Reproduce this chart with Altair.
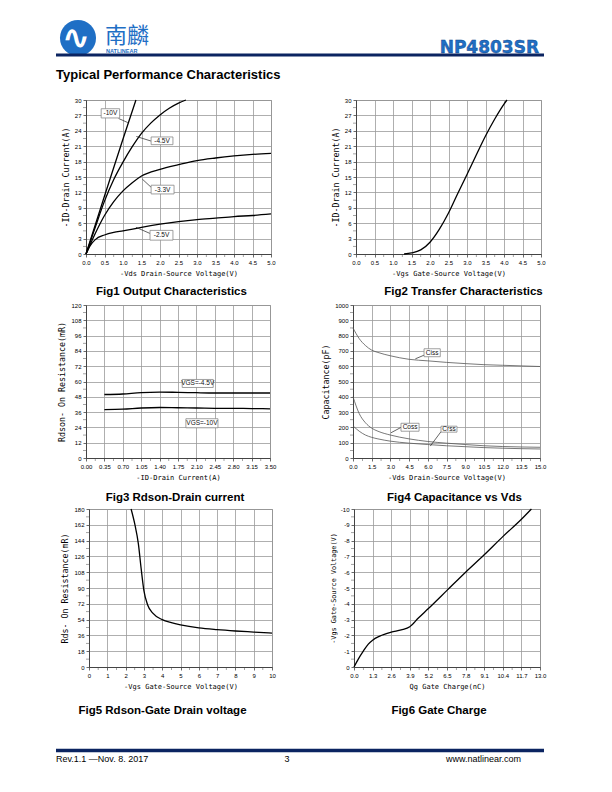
import altair as alt
import pandas as pd

# ---------------- tick values ----------------
f1_xticks = [0.0, 0.5, 1.0, 1.5, 2.0, 2.5, 3.0, 3.5, 4.0, 4.5, 5.0]
f1_yticks = [0, 3, 6, 9, 12, 15, 18, 21, 24, 27, 30]
f3_xticks = [0.0, 0.35, 0.70, 1.05, 1.40, 1.75, 2.10, 2.45, 2.80, 3.15, 3.50]
f3_yticks = [0, 12, 24, 36, 48, 60, 72, 84, 96, 108, 120]
f4_xticks = [0.0, 1.5, 3.0, 4.5, 6.0, 7.5, 9.0, 10.5, 12.0, 13.5, 15.0]
f4_yticks = [0, 100, 200, 300, 400, 500, 600, 700, 800, 900, 1000]
f5_xticks = [0, 1, 2, 3, 4, 5, 6, 7, 8, 9, 10]
f5_yticks = [0, 18, 36, 54, 72, 90, 108, 126, 144, 162, 180]
f6_xticks = [0.0, 1.3, 2.6, 3.9, 5.2, 6.5, 7.8, 9.1, 10.4, 11.7, 13.0]
f6_yticks = [0, -1, -2, -3, -4, -5, -6, -7, -8, -9, -10]

# ---------------- Fig1 Output Characteristics ----------------
f1_vds_10 = [0, 0.5, 1.0, 1.35]
f1_id_10 = [0, 11.3, 22.4, 30.0]
f1_vds_45 = [0, 0.25, 0.5, 0.75, 1.0, 1.25, 1.5, 1.75, 2.0, 2.25, 2.5, 2.7]
f1_id_45 = [0, 5.2, 10.3, 14.5, 17.9, 20.9, 23.5, 25.5, 27.1, 28.4, 29.4, 30.0]
f1_vds_33 = [0, 0.25, 0.5, 0.75, 1.0, 1.25, 1.5, 2.0, 2.5, 3.0, 3.5, 4.0, 4.5, 5.0]
f1_id_33 = [0, 4.0, 7.5, 10.2, 12.3, 13.9, 15.2, 16.5, 17.4, 18.2, 18.7, 19.1, 19.4, 19.6]
f1_vds_25 = [0, 0.1, 0.25, 0.5, 0.75, 1.0, 1.5, 2.0, 2.5, 3.0, 3.5, 4.0, 4.5, 5.0]
f1_id_25 = [0, 1.5, 2.8, 3.7, 4.2, 4.5, 5.2, 5.8, 6.3, 6.7, 7.0, 7.3, 7.5, 7.8]
f1_labels = ["-10V", "-4.5V", "-3.3V", "-2.5V"]
f1_box_x1 = [0.41, 1.76, 1.76, 1.73]
f1_box_x2 = [0.91, 2.35, 2.38, 2.35]
f1_box_y1 = [26.5, 21.3, 11.7, 2.7]
f1_box_y2 = [28.3, 22.8, 13.4, 4.6]
f1_lead_x1 = [0.88, 1.36, 1.52, 1.35]
f1_lead_y1 = [26.4, 22.9, 14.6, 5.2]
f1_lead_x2 = [1.13, 1.76, 1.76, 1.73]
f1_lead_y2 = [25.6, 22.0, 13.0, 4.0]

# ---------------- Fig2 Transfer Characteristics ----------------
f2_vgs = [1.3, 1.5, 1.75, 2.0, 2.25, 2.5, 2.75, 3.0, 3.25, 3.5, 3.75, 4.0, 4.08]
f2_id = [0.0, 0.2, 0.8, 2.3, 4.8, 8.0, 11.8, 15.5, 19.3, 23.0, 26.3, 29.2, 30.0]

# ---------------- Fig3 Rdson-Drain current ----------------
f3_id = [0.35, 0.70, 1.05, 1.40, 1.75, 2.10, 2.45, 2.80, 3.15, 3.50]
f3_r45 = [49.8, 50.2, 51.3, 51.6, 51.5, 51.2, 51.0, 51.0, 51.0, 51.0]
f3_r10 = [38.0, 38.3, 39.2, 39.6, 39.4, 39.2, 39.0, 38.9, 38.8, 38.6]
f3_labels = ["VGS=-4.5V", "VGS=-10V"]
f3_box_x1 = [1.83, 1.90]
f3_box_x2 = [2.42, 2.51]
f3_box_y1 = [55.3, 23.7]
f3_box_y2 = [61.6, 30.8]

# ---------------- Fig4 Capacitance vs Vds ----------------
f4_vds = [0, 0.5, 1.0, 1.5, 2.0, 3.0, 4.5, 6.0, 7.5, 9.0, 10.5, 12.0, 13.5, 15.0]
f4_ciss = [850, 780, 735, 705, 690, 668, 645, 635, 625, 617, 610, 606, 602, 598]
f4_coss = [400, 290, 230, 195, 175, 150, 125, 108, 97, 88, 80, 75, 72, 70]
f4_crss = [210, 175, 150, 135, 125, 110, 97, 88, 80, 74, 68, 64, 61, 59]
f4_labels = ["Ciss", "Coss", "Crss"]
f4_box_x1 = [5.7, 3.85, 7.06]
f4_box_x2 = [7.0, 5.3, 8.34]
f4_box_y1 = [662, 175, 169]
f4_box_y2 = [714, 227, 208]
f4_lead_x1 = [5.0, 3.05, 6.2]
f4_lead_y1 = [648, 165, 78]
f4_lead_x2 = [5.7, 3.85, 7.06]
f4_lead_y2 = [672, 200, 172]

# ---------------- Fig5 Rdson-Gate voltage ----------------
f5_vgs = [2.3, 2.5, 2.7, 2.85, 3.0, 3.2, 3.5, 4.0, 4.5, 5.0, 6.0, 7.0, 8.0, 9.0, 10.0]
f5_r = [180, 163, 140, 112, 87, 71, 61, 54, 50.5, 48, 44.5, 42.5, 41, 39.8, 38.6]

# ---------------- Fig6 Gate Charge ----------------
f6_qg = [0, 0.3, 0.65, 1.0, 1.3, 1.8, 2.6, 3.3, 3.9, 4.5, 5.2, 6.5, 7.8, 9.1, 10.4, 11.7, 12.4]
f6_vgs = [0, -0.5, -1.0, -1.45, -1.7, -1.95, -2.2, -2.35, -2.55, -3.1, -3.7, -4.85, -6.0,
          -7.1, -8.25, -9.35, -10.0]

# ---------------- styling helpers ----------------
LBL_FONT = "Liberation Sans"
TTL_FONT = "DejaVu Sans Mono"
NAVY = "#0b2461"
BLUE = "#1f6fc5"


def axis(values, title, fmt=None, title_size=7.0, label_expr=None, title_pad=4):
    kw = dict(values=values, title=title, grid=True, gridColor="#9a9a9a", gridWidth=0.8,
              domainColor="#444", domainWidth=1, tickColor="#444", tickSize=3, tickWidth=0.8,
              labelFont=LBL_FONT, labelFontSize=6, labelColor="#000", labelPadding=2,
              labelOverlap=False, labelFlush=False,
              titleFont=TTL_FONT, titleFontSize=title_size, titleFontWeight="normal",
              titleColor="#000", titlePadding=title_pad)
    if fmt:
        kw["format"] = fmt
    if label_expr:
        kw["labelExpr"] = label_expr
    return alt.Axis(**kw)


def midpoints(ticks):
    return [(a + b) / 2 for a, b in zip(ticks[:-1], ticks[1:])]


def figure(curves, boxes, leaders, xdom, xticks, xax, ydom, yticks, yax, w, h, caption,
           cap_dx, cap_off, line_color="black", line_w=1.3, box_font=6.5):
    xs = alt.Scale(domain=xdom, nice=False, zero=False)
    ys = alt.Scale(domain=ydom, nice=False, zero=False)

    def X(f="x"):
        return alt.X(f + ":Q", scale=xs, axis=xax)

    def Y(f="y"):
        return alt.Y(f + ":Q", scale=ys, axis=yax)

    xminor = pd.DataFrame({"x": midpoints(xticks)})
    yminor = pd.DataFrame({"y": midpoints(yticks)})
    layers = [
        alt.Chart(curves).mark_line(color=line_color, strokeWidth=line_w,
                                    interpolate="monotone").encode(
            x=X(), y=Y(), detail="s:N"),
        alt.Chart(xminor).mark_tick(size=3, thickness=0.7, color="#444",
                                    orient="vertical").encode(
            x=X(), y=alt.value(h + 1.5)),
        alt.Chart(yminor).mark_tick(size=3, thickness=0.7, color="#444",
                                    orient="horizontal").encode(
            y=Y(), x=alt.value(-1.5)),
    ]
    if leaders is not None:
        layers.append(alt.Chart(leaders).mark_rule(color="#222", strokeWidth=0.7).encode(
            x=X(), y=Y(), x2="x2:Q", y2="y2:Q"))
    if boxes is not None:
        layers.append(alt.Chart(boxes).mark_rect(fill="white", stroke="#888",
                                                 strokeWidth=0.8).encode(
            x=X(), y=Y(), x2="x2:Q", y2="y2:Q"))
        layers.append(alt.Chart(boxes).mark_text(font=LBL_FONT, fontSize=box_font,
                                                 color="#111").encode(
            x=X("xc"), y=Y("yc"), text="t:N"))
    return alt.layer(*layers).properties(
        width=w, height=h,
        title=alt.TitleParams(caption, orient="bottom", anchor="middle", font=LBL_FONT,
                              fontSize=11.5, fontWeight="bold", color="#000",
                              offset=cap_off, dx=cap_dx))


def curves_df(*series):
    frames = []
    for name, xs, ys in series:
        frames.append(pd.DataFrame({"x": xs, "y": ys, "s": name}))
    return pd.concat(frames, ignore_index=True)


def boxes_df(labels, x1, x2, y1, y2):
    return pd.DataFrame({"t": labels, "x": x1, "x2": x2, "y": y1, "y2": y2,
                         "xc": [(a + b) / 2 for a, b in zip(x1, x2)],
                         "yc": [(a + b) / 2 for a, b in zip(y1, y2)]})


def leaders_df(x1, y1, x2, y2):
    return pd.DataFrame({"x": x1, "y": y1, "x2": x2, "y2": y2})


one = pd.DataFrame({"a": [0]})
NOVIEW = alt.ViewBackground(stroke=None)


def spacer(w, h):
    return alt.Chart(one).mark_point(opacity=0).encode(
        x=alt.value(0), y=alt.value(0)).properties(width=w, height=h, view=NOVIEW)


# ---------------- figures ----------------
fig1 = figure(
    curves_df(("10", f1_vds_10, f1_id_10), ("45", f1_vds_45, f1_id_45),
              ("33", f1_vds_33, f1_id_33), ("25", f1_vds_25, f1_id_25)),
    boxes_df(f1_labels, f1_box_x1, f1_box_x2, f1_box_y1, f1_box_y2),
    leaders_df(f1_lead_x1, f1_lead_y1, f1_lead_x2, f1_lead_y2),
    [0, 5], f1_xticks, axis(f1_xticks, "-Vds Drain-Source Voltage(V)", ".1f"),
    [0, 30], f1_yticks, axis(f1_yticks, "-ID-Drain Current(A)", "d", title_size=8.3),
    185, 154, "Fig1 Output Characteristics", -7, 10)

fig2 = figure(
    curves_df(("t", f2_vgs, f2_id)), None, None,
    [0, 5], f1_xticks, axis(f1_xticks, "-Vgs Gate-Source Voltage(V)", ".1f"),
    [0, 30], f1_yticks, axis(f1_yticks, "-ID-Drain Current(A)", "d", title_size=8.3),
    185, 154, "Fig2 Transfer Characteristics", 15, 10)

fig3 = figure(
    curves_df(("45", f3_id, f3_r45), ("10", f3_id, f3_r10)),
    boxes_df(f3_labels, f3_box_x1, f3_box_x2, f3_box_y1, f3_box_y2), None,
    [0, 3.5], f3_xticks, axis(f3_xticks, "-ID-Drain Current(A)", ".2f"),
    [0, 120], f3_yticks, axis(f3_yticks, "Rdson- On Resistance(mR)", "d", title_size=8.3),
    184, 153, "Fig3 Rdson-Drain current", -3, 12)

fig4 = figure(
    curves_df(("ciss", f4_vds, f4_ciss), ("coss", f4_vds, f4_coss), ("crss", f4_vds, f4_crss)),
    boxes_df(f4_labels, f4_box_x1, f4_box_x2, f4_box_y1, f4_box_y2),
    leaders_df(f4_lead_x1, f4_lead_y1, f4_lead_x2, f4_lead_y2),
    [0, 15], f4_xticks, axis(f4_xticks, "-Vds Drain-Source Voltage(V)", ".1f"),
    [0, 1000], f4_yticks, axis(f4_yticks, "Capacitance(pF)", "d", title_size=8.3),
    187, 153, "Fig4 Capacitance vs Vds", 8, 12, line_color="#555", line_w=0.8)

fig5 = figure(
    curves_df(("r", f5_vgs, f5_r)), None, None,
    [0, 10], f5_xticks, axis(f5_xticks, "-Vgs Gate-Source Voltage(V)", "d"),
    [0, 180], f5_yticks, axis(f5_yticks, "Rds- On Resistance(mR)", "d", title_size=8.3),
    183, 158, "Fig5  Rdson-Gate Drain voltage", -18, 16)

fig6 = figure(
    curves_df(("q", f6_qg, f6_vgs)), None, None,
    [0, 13], f6_xticks, axis(f6_xticks, "Qg Gate Charge(nC)", ".1f"),
    [0, -10], f6_yticks, axis(f6_yticks, "-Vgs Gate-Source Voltage(V)", title_size=6.8,
                              label_expr="datum.value == 0 ? '0' : '-' + abs(datum.value)"),
    186, 158, "Fig6 Gate Charge", -8, 16)

# ---------------- header / footer ----------------
hb = alt.Chart(one)
header = alt.layer(
    hb.mark_circle(size=1300, color=BLUE, opacity=1).encode(x=alt.value(67), y=alt.value(30)),
    hb.mark_text(text="∿", font="DejaVu Sans", fontSize=34, fontWeight="bold", color="white",
                 baseline="middle", align="center").encode(x=alt.value(65), y=alt.value(31)),
    hb.mark_text(text="南麟", font="Noto Sans CJK SC", fontSize=22, color=BLUE,
                 baseline="middle", align="left").encode(x=alt.value(94), y=alt.value(28)),
    hb.mark_text(text="NATLINEAR", font=LBL_FONT, fontSize=5.5, fontWeight="bold",
                 color=BLUE, baseline="alphabetic", align="left").encode(
        x=alt.value(95), y=alt.value(45)),
    hb.mark_text(text="NP4803SR", font="DejaVu Sans", fontSize=17, fontWeight="bold",
                 color=BLUE, stroke="#0d3f85", strokeWidth=0.4, baseline="alphabetic",
                 align="right").encode(x=alt.value(528), y=alt.value(45)),
    hb.mark_rule(color=NAVY, strokeWidth=3).encode(
        x=alt.value(45), x2=alt.value(533), y=alt.value(47)),
    hb.mark_text(text="Typical Performance Characteristics", font=LBL_FONT, fontSize=13,
                 fontWeight="bold", color="#000", baseline="alphabetic", align="left").encode(
        x=alt.value(45), y=alt.value(70.5)),
).properties(width=590, height=92, view=NOVIEW)

footer = alt.layer(
    hb.mark_rule(color=NAVY, strokeWidth=3.5).encode(
        x=alt.value(45), x2=alt.value(533), y=alt.value(32.5)),
    hb.mark_text(text="Rev.1.1 —Nov. 8. 2017", font=LBL_FONT, fontSize=9, color="#000",
                 baseline="alphabetic", align="left").encode(x=alt.value(45), y=alt.value(43.5)),
    hb.mark_text(text="3", font=LBL_FONT, fontSize=9, color="#000",
                 baseline="alphabetic", align="center").encode(x=alt.value(276), y=alt.value(43.5)),
    hb.mark_text(text="www.natlinear.com", font=LBL_FONT, fontSize=9, color="#000",
                 baseline="alphabetic", align="right").encode(x=alt.value(510), y=alt.value(43.5)),
).properties(width=590, height=50, view=NOVIEW)

row1 = alt.hconcat(spacer(75, 154), fig1, spacer(85, 154), fig2, spacing=0, bounds="flush")
row2 = alt.hconcat(spacer(75, 153), fig3, spacer(83, 153), fig4, spacing=0, bounds="flush")
row3 = alt.hconcat(spacer(78, 158), fig5, spacer(82, 158), fig6, spacing=0, bounds="flush")

# vertical gaps: each spans a row's plot height plus the gap to the next row
chart = alt.vconcat(header, row1, spacer(2, 205), row2, spacer(2, 204), row3,
                    spacer(2, 209), footer, spacing=0, bounds="flush").properties(
    padding=0
).configure_view(stroke="#8a8a8a", strokeWidth=1)

chart.save("out.html", embed_options={"renderer": "svg", "actions": False})
